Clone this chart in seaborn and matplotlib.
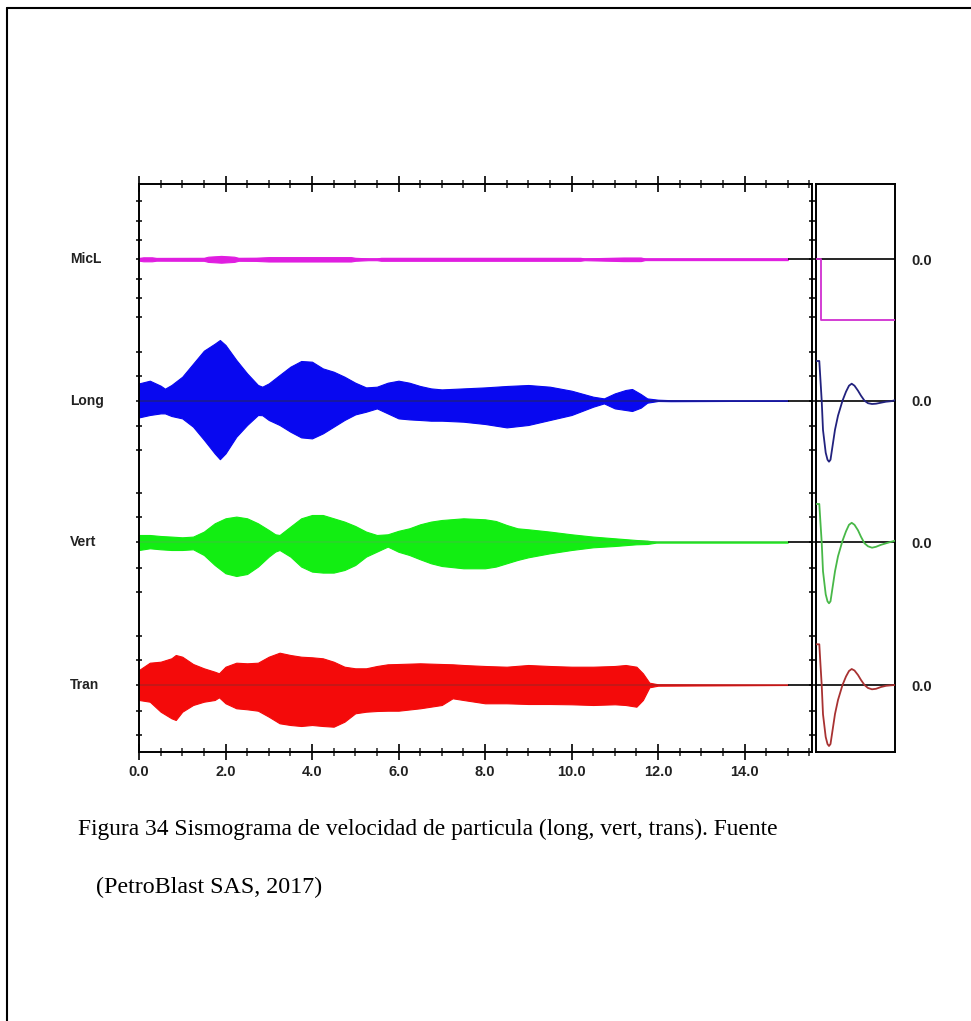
import numpy as np
import pandas as pd
import matplotlib
matplotlib.use("Agg")
import matplotlib.pyplot as plt
import seaborn as sns
from matplotlib.ticker import MultipleLocator
from matplotlib.lines import Line2D
import matplotlib.transforms as mtransforms

# ---------------- data (amplitudes in display units) ----------------
CHANNELS = ["MicL", "Long", "Vert", "Tran"]
RECORD_END = 15.0
X_MAX = 15.56
X_TICKS = [0.0, 2.0, 4.0, 6.0, 8.0, 10.0, 12.0, 14.0]
X_TICK_LABELS = ["0.0", "2.0", "4.0", "6.0", "8.0", "10.0", "12.0", "14.0"]

MICL_T = [0, 0.1, 0.3, 0.4, 1.5, 1.6, 1.9, 2.2, 2.3, 2.7, 3.0, 4.9, 5.0, 5.3, 5.5, 5.6, 10.2, 10.3, 11.2, 11.6, 11.7, 15.0]
MICL_UP = [1.4, 2.0, 2.0, 1.4, 1.5, 2.6, 3.4, 2.6, 1.5, 1.6, 2.2, 2.2, 1.5, 0.9, 0.9, 1.5, 1.5, 0.9, 1.8, 1.8, 0.8, 0.8]
MICL_DN = [1.4, 2.0, 2.0, 1.4, 1.5, 2.6, 3.4, 2.6, 1.5, 1.6, 2.2, 2.2, 1.5, 0.9, 0.9, 1.5, 1.5, 0.9, 1.8, 1.8, 0.8, 0.8]

LONG_T = [0, 0.25, 0.5, 0.6, 0.75, 1.0, 1.25, 1.5, 1.75, 1.87, 2.0, 2.25, 2.5, 2.75, 2.85, 3.0, 3.25, 3.5, 3.75, 4.0,
          4.25, 4.5, 4.75, 5.0, 5.25, 5.5, 5.75, 6.0, 6.25, 6.5, 6.75, 7.0, 7.5, 8.0, 8.5, 9.0, 9.5, 10.0, 10.5, 10.75,
          11.0, 11.25, 11.4, 11.6, 11.75, 12.0, 12.3, 15.0]
LONG_UP = [17.3, 20, 15, 12, 15.7, 24, 37, 50, 57, 60.7, 55.7, 40.7, 27.3, 15.7, 14, 17.3, 25.7, 34, 39.7, 39,
           32.3, 29, 24, 18, 13.3, 14, 18, 20, 18, 14.7, 12.3, 11.3, 12.3, 13.3, 14.7, 15.7, 14, 10, 4, 2.3,
           7.3, 10.7, 11.7, 6.7, 2.3, 1, 0.5, 0]
LONG_DN = [16.7, 14.3, 12.7, 12.7, 15.3, 17.7, 26, 39, 52.7, 58.5, 52.7, 36, 24.3, 14.3, 14.5, 19.3, 24.3, 31, 36.7, 37.7,
           32.7, 26, 19.3, 13.7, 11, 7.7, 12.7, 17.7, 18.7, 19.3, 20, 20, 21, 23.3, 26.7, 24.3, 19.3, 14.3, 6, 2.7,
           7.7, 9.3, 10.3, 7, 2, 0.3, 0.5, 0]

VERT_T = [0, 0.25, 0.5, 0.75, 1.0, 1.25, 1.5, 1.75, 2.0, 2.25, 2.5, 2.75, 3.0, 3.15, 3.25, 3.5, 3.75, 4.0, 4.25, 4.5,
          4.75, 5.0, 5.25, 5.5, 5.75, 6.0, 6.25, 6.5, 6.75, 7.0, 7.5, 8.0, 8.25, 8.5, 8.75, 9.0, 9.5, 10.0, 10.5, 11.0,
          11.5, 11.75, 11.9, 12.0, 15.0]
VERT_UP = [7.3, 7.3, 6.3, 5.7, 5, 5.7, 10.7, 19, 24, 25.7, 24, 19, 12.3, 8, 7.3, 15.7, 24, 27.3, 27.3, 24,
           20.7, 16.3, 10.7, 7.3, 8, 11.5, 14, 18, 20.7, 22.3, 24, 23, 21.3, 17.3, 14, 13, 10.7, 8, 5.7, 4,
           2.3, 1.7, 0.7, 0, 0]
VERT_DN = [7.7, 6, 7, 7.7, 7.7, 7, 12.7, 22.7, 31, 33.7, 31.7, 24.3, 14.3, 9.3, 7.7, 14.3, 24.3, 29.3, 30.3, 30.3,
           27.7, 22.7, 14.3, 9.3, 4.3, 9.5, 12.7, 17, 21, 23.7, 26, 26, 24.3, 21, 17.7, 15, 11, 7.7, 5, 3.7,
           2, 1.7, 0.7, 0, 0]

TRAN_T = [0, 0.25, 0.5, 0.75, 0.85, 1.0, 1.25, 1.5, 1.75, 1.85, 2.0, 2.25, 2.5, 2.75, 3.0, 3.25, 3.5, 3.75, 4.0, 4.25,
          4.5, 4.75, 5.0, 5.25, 5.5, 5.75, 6.0, 6.5, 7.0, 7.25, 7.5, 8.0, 8.5, 9.0, 9.5, 10.0, 10.5, 11.0, 11.25, 11.5,
          11.65, 11.8, 12.0, 15.0]
TRAN_UP = [15, 22.3, 23.3, 26.7, 30, 28.3, 21, 16.7, 13.3, 11.7, 18.3, 22.3, 21.7, 22.3, 28.3, 32.3, 30, 28.3, 27.7, 26.7,
           23.3, 18.3, 16.7, 16.7, 19, 20.7, 21, 21.7, 21, 20.7, 20, 19, 18.3, 20, 19, 18.3, 18.3, 19, 20, 18.3,
           11.7, 2.3, 0.7, 0]
TRAN_DN = [15, 16.7, 26.7, 33.3, 35, 26.7, 20, 16.7, 15, 12.3, 18.3, 23.3, 24.3, 25.7, 31.7, 38.3, 40, 41, 40, 41,
           41.7, 36.7, 28.3, 26.7, 26, 25.7, 25.7, 23.3, 20, 13.3, 15, 18.3, 18.3, 19, 19, 19.3, 20, 19.3, 20, 21.7,
           15, 2.3, 0.7, 0]

# single-pulse (right panel) traces
PULSE_X = [0, 3.3, 4.5, 5.7, 7, 9.7, 11.5, 13, 14.5, 16, 19, 22, 26.5, 30, 33, 35.7, 38.5, 42, 45, 48.5,
           52, 56, 60, 65, 70, 75, 79]
PULSE_LONG = [39.7, 39.7, 20, 0, -29.3, -52, -59, -61, -59, -49, -29, -15, 0, 9, 15, 17, 15, 10, 5, 0,
              -2.5, -3.3, -3, -2, -1, -0.5, 0.5]
PULSE_VERT = [38.3, 38.3, 19, 0, -29, -52, -59, -61, -59, -49, -29, -14, 1.5, 11, 17.5, 19.5, 17.5, 12, 5.5, -1,
              -4, -5.4, -4.5, -2.5, -1, 0.5, 1.6]
PULSE_TRAN = [40.7, 40.7, 20, 0, -29.3, -52, -59, -61, -59, -49, -29, -15, 0, 8.5, 14, 16, 14.5, 10, 5, 0,
              -3, -4.3, -3.8, -2, -0.8, -0.3, 0]
MICL_STEP_X = [0, 5, 5, 79]
MICL_STEP_Y = [0, 0, -61, -61]

CAPTION_1 = "Figura 34 Sismograma de velocidad de particula (long, vert, trans). Fuente"
CAPTION_2 = "(PetroBlast SAS, 2017)"

# ---------------- layout / style ----------------
W, H = 971, 1021
BASE = {"MicL": 259.3, "Long": 400.7, "Vert": 542.3, "Tran": 685.0}
TICK_OFFS = {"MicL": [-58, -38.5, -19.3, 0, 19.3, 38.5, 58],
             "Long": [-49, -25, 0, 25.6, 49.3],
             "Vert": [-49.6, -25.6, 0, 25.4, 49.4],
             "Tran": [-49, -25, 0, 25.7, 50]}
FILL_COL = {"MicL": "#e01ee0", "Long": "#0808f0", "Vert": "#12ee12", "Tran": "#f40a0a"}
THIN_COL = {"MicL": "#e01ee0", "Long": "#1c1c8a", "Vert": "#30d030", "Tran": "#b81c1c"}
PULSE_COL = {"MicL": "#d02ed0", "Long": "#22227e", "Vert": "#48b848", "Tran": "#a83232"}

sns.set_theme(style="white")
plt.rcParams["font.family"] = ["Liberation Sans", "DejaVu Sans"]

fig = plt.figure(figsize=(W / 100, H / 100), dpi=100)
fig.patch.set_facecolor("white")

ax = fig.add_axes([139 / W, 1 - 752 / H, (812 - 139) / W, (752 - 184) / H])
ax2 = fig.add_axes([816 / W, 1 - 752 / H, (895 - 816) / W, (752 - 184) / H])

for a in (ax, ax2):
    a.set_ylim(752, 184)
    a.set_facecolor("white")
    for s in a.spines.values():
        s.set_color("black")
        s.set_linewidth(1.4)
        s.set_visible(True)

# ----- main seismogram -----
env = {"MicL": (MICL_T, MICL_UP, MICL_DN), "Long": (LONG_T, LONG_UP, LONG_DN),
       "Vert": (VERT_T, VERT_UP, VERT_DN), "Tran": (TRAN_T, TRAN_UP, TRAN_DN)}
for ch in CHANNELS:
    t, up, dn = (np.asarray(v, float) for v in env[ch])
    b = BASE[ch]
    thin = pd.DataFrame({"t": [0.0, RECORD_END], "y": [b, b]})
    sns.lineplot(data=thin, x="t", y="y", ax=ax, color=THIN_COL[ch], lw=1.1, estimator=None)
    ax.fill_between(t, b - up, b + dn, color=FILL_COL[ch], lw=0.8, edgecolor=FILL_COL[ch])
    ax.hlines(b, RECORD_END, X_MAX, color="black", lw=1.2)

ax.set_xlim(0, X_MAX)
ax.set_xlabel("")
ax.set_ylabel("")
ax.set_xticks(X_TICKS)
ax.set_xticklabels(X_TICK_LABELS, fontsize=10.5, fontweight="bold", color="#222222")
ax.xaxis.set_minor_locator(MultipleLocator(0.5))
ax.tick_params(axis="x", which="major", direction="inout", length=11.5, width=1.2,
               top=True, bottom=True, labeltop=False, pad=3.5, colors="black", labelcolor="#222222")
ax.tick_params(axis="x", which="minor", direction="inout", length=5.5, width=1.1,
               top=True, bottom=True)
yt = sorted(BASE[c] + o for c in CHANNELS for o in TICK_OFFS[c])
ax.set_yticks(yt)
ax.set_yticklabels([])
ax.tick_params(axis="y", which="major", direction="inout", length=5, width=1.1,
               left=True, right=True, colors="black")

trans = mtransforms.blended_transform_factory(fig.transFigure, ax.transData)
for ch in CHANNELS:
    ax.text(70 / W, BASE[ch], ch, transform=trans, ha="left", va="center",
            fontsize=10, fontweight="bold", color="#222222")

# ----- right panel: single pulse -----
ax2.set_xlim(0, 79)
for ch in CHANNELS:
    ax2.axhline(BASE[ch], color="black", lw=1.2, zorder=1)
pulses = {"Long": (PULSE_X, PULSE_LONG), "Vert": (PULSE_X, PULSE_VERT),
          "Tran": (PULSE_X, PULSE_TRAN), "MicL": (MICL_STEP_X, MICL_STEP_Y)}
for ch in CHANNELS:
    px, py = pulses[ch]
    df = pd.DataFrame({"x": px, "y": BASE[ch] - np.asarray(py, float)})
    sns.lineplot(data=df, x="x", y="y", ax=ax2, color=PULSE_COL[ch], lw=1.3,
                 estimator=None, sort=False, zorder=3)
ax2.set_xlabel("")
ax2.set_ylabel("")
ax2.set_xticks([])
ax2.yaxis.tick_right()
ax2.set_yticks([BASE[c] for c in CHANNELS])
ax2.set_yticklabels(["0.0"] * len(CHANNELS), fontsize=10.5, fontweight="bold", color="#222222")
ax2.tick_params(axis="y", length=0, pad=12)

# ----- page frame & caption -----
fig.add_artist(Line2D([7 / W, 7 / W], [0, 1 - 8 / H], transform=fig.transFigure, color="black", lw=1.5))
fig.add_artist(Line2D([7 / W, 1], [1 - 8 / H, 1 - 8 / H], transform=fig.transFigure, color="black", lw=1.5))
fig.text(78 / W, 1 - 829 / H, CAPTION_1, family=["Liberation Serif", "DejaVu Serif"], fontsize=16.9,
         ha="left", va="center", color="black")
fig.text(96 / W, 1 - 887 / H, CAPTION_2, family=["Liberation Serif", "DejaVu Serif"], fontsize=17.3,
         ha="left", va="center", color="black")

fig.savefig("out.png", dpi=100, facecolor="white")
